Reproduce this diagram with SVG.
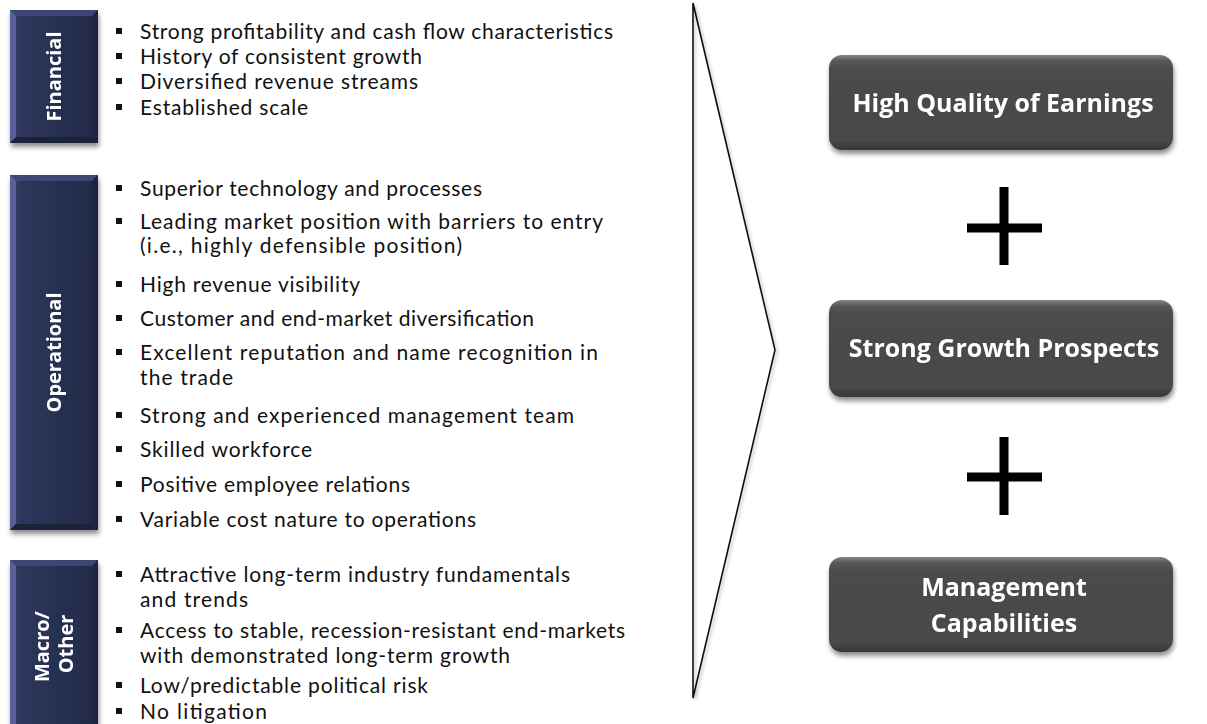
<svg xmlns="http://www.w3.org/2000/svg" width="1207" height="724" viewBox="0 0 1207 724">
  <style>
    .bul { font-family: Lato, "Liberation Sans", sans-serif; font-size: 21px; fill: #111111; }
    .dot { fill: #111111; }
    .tag { font-family: "Open Sans", "Liberation Sans", sans-serif; font-size: 20px; font-weight: bold; fill: #ffffff; text-anchor: middle; }
    .ttl { font-family: "Open Sans", "Liberation Sans", sans-serif; font-size: 25px; font-weight: bold; fill: #ffffff; text-anchor: middle; }
    .plus { stroke: #000000; stroke-width: 9; fill: none; }
  </style>
  <defs>
    <linearGradient id="navyFill" x1="0" y1="0" x2="1" y2="0">
      <stop offset="0" stop-color="#3a4470"/>
      <stop offset="0.12" stop-color="#2e365c"/>
      <stop offset="0.5" stop-color="#283052"/>
      <stop offset="1" stop-color="#232a48"/>
    </linearGradient>
    <linearGradient id="greyFill" x1="0" y1="0" x2="0" y2="1">
      <stop offset="0" stop-color="#858585"/>
      <stop offset="0.06" stop-color="#585858"/>
      <stop offset="0.15" stop-color="#4b4b4b"/>
      <stop offset="0.9" stop-color="#494949"/>
      <stop offset="1" stop-color="#363636"/>
    </linearGradient>
    <filter id="shadow" x="-10%" y="-10%" width="125%" height="130%">
      <feGaussianBlur in="SourceAlpha" stdDeviation="2.5"/>
      <feOffset dx="1" dy="4" result="b"/>
      <feComponentTransfer><feFuncA type="linear" slope="0.45"/></feComponentTransfer>
      <feMerge><feMergeNode/><feMergeNode in="SourceGraphic"/></feMerge>
    </filter>
    <filter id="lineShadow" x="-20%" y="-5%" width="140%" height="110%">
      <feGaussianBlur in="SourceAlpha" stdDeviation="1.5"/>
      <feOffset dx="2" dy="2"/>
      <feComponentTransfer><feFuncA type="linear" slope="0.25"/></feComponentTransfer>
      <feMerge><feMergeNode/><feMergeNode in="SourceGraphic"/></feMerge>
    </filter>
  </defs>

  <rect width="1207" height="724" fill="#ffffff"/>

  <!-- Category tabs on the left -->
  <g id="tab-financial" filter="url(#shadow)">
    <rect x="10" y="10" width="88" height="133" fill="url(#navyFill)"/>
    <polygon points="10,10 98,10 92,16 16,16" fill="#3c4674"/>
    <polygon points="10,10 16,16 16,137 10,143" fill="#56619a"/>
    <polygon points="98,10 98,143 92,137 92,16" fill="#1f2541"/>
    <polygon points="10,143 98,143 92,137 16,137" fill="#1b2039"/>
    <text class="tag" transform="translate(54,76.5) rotate(-90)" y="7">Financial</text>
  </g>
  <g id="tab-operational" filter="url(#shadow)">
    <rect x="10" y="175" width="88" height="355" fill="url(#navyFill)"/>
    <polygon points="10,175 98,175 92,181 16,181" fill="#3c4674"/>
    <polygon points="10,175 16,181 16,524 10,530" fill="#56619a"/>
    <polygon points="98,175 98,530 92,524 92,181" fill="#1f2541"/>
    <polygon points="10,530 98,530 92,524 16,524" fill="#1b2039"/>
    <text class="tag" transform="translate(54,352.5) rotate(-90)" y="7">Operational</text>
  </g>
  <g id="tab-macro" filter="url(#shadow)">
    <rect x="10" y="560" width="88" height="170" fill="url(#navyFill)"/>
    <polygon points="10,560 98,560 92,566 16,566" fill="#3c4674"/>
    <polygon points="10,560 16,566 16,724 10,730" fill="#56619a"/>
    <polygon points="98,560 98,730 92,724 92,566" fill="#1f2541"/>
    <polygon points="10,730 98,730 92,724 16,724" fill="#1b2039"/>
    <text class="tag" transform="translate(54,644) rotate(-90)">
      <tspan x="0" y="-5">Macro/</tspan>
      <tspan x="0" y="19">Other</tspan>
    </text>
  </g>

  <!-- Bullet lists -->
  <g id="list-financial">
    <rect class="dot" x="116" y="28" width="6" height="6"/>
    <text class="bul" x="140" y="39" textLength="473">Strong profitability and cash flow characteristics</text>
    <rect class="dot" x="116" y="53" width="6" height="6"/>
    <text class="bul" x="140" y="64" textLength="282">History of consistent growth</text>
    <rect class="dot" x="116" y="78" width="6" height="6"/>
    <text class="bul" x="140" y="89" textLength="278">Diversified revenue streams</text>
    <rect class="dot" x="116" y="104" width="6" height="6"/>
    <text class="bul" x="140" y="115" textLength="168">Established scale</text>
  </g>

  <g id="list-operational">
    <rect class="dot" x="116" y="185" width="6" height="6"/>
    <text class="bul" x="140" y="196" textLength="342">Superior technology and processes</text>
    <rect class="dot" x="116" y="218" width="6" height="6"/>
    <text class="bul" x="140" y="229" textLength="463">Leading market position with barriers to entry</text>
    <text class="bul" x="140" y="253" textLength="322">(i.e., highly defensible position)</text>
    <rect class="dot" x="116" y="281" width="6" height="6"/>
    <text class="bul" x="140" y="292" textLength="220">High revenue visibility</text>
    <rect class="dot" x="116" y="315" width="6" height="6"/>
    <text class="bul" x="140" y="326" textLength="394">Customer and end-market diversification</text>
    <rect class="dot" x="116" y="349" width="6" height="6"/>
    <text class="bul" x="140" y="360" textLength="458">Excellent reputation and name recognition in</text>
    <text class="bul" x="140" y="385" textLength="93">the trade</text>
    <rect class="dot" x="116" y="412" width="6" height="6"/>
    <text class="bul" x="140" y="423" textLength="434">Strong and experienced management team</text>
    <rect class="dot" x="116" y="446" width="6" height="6"/>
    <text class="bul" x="140" y="457" textLength="172">Skilled workforce</text>
    <rect class="dot" x="116" y="481" width="6" height="6"/>
    <text class="bul" x="140" y="492" textLength="270">Positive employee relations</text>
    <rect class="dot" x="116" y="516" width="6" height="6"/>
    <text class="bul" x="140" y="527" textLength="336">Variable cost nature to operations</text>
  </g>

  <g id="list-macro">
    <rect class="dot" x="116" y="571" width="6" height="6"/>
    <text class="bul" x="140" y="582" textLength="430">Attractive long-term industry fundamentals</text>
    <text class="bul" x="140" y="607" textLength="108">and trends</text>
    <rect class="dot" x="116" y="627" width="6" height="6"/>
    <text class="bul" x="140" y="638" textLength="485">Access to stable, recession-resistant end-markets</text>
    <text class="bul" x="140" y="663" textLength="370">with demonstrated long-term growth</text>
    <rect class="dot" x="116" y="682" width="6" height="6"/>
    <text class="bul" x="140" y="693" textLength="288">Low/predictable political risk</text>
    <rect class="dot" x="116" y="708" width="6" height="6"/>
    <text class="bul" x="140" y="719" textLength="127">No litigation</text>
  </g>

  <!-- Connectors: the large chevron and the plus signs -->
  <g id="connectors">
    <polygon points="693,3 775,350 693,698" fill="none" stroke="#111111" stroke-width="1.6" stroke-linejoin="miter" filter="url(#lineShadow)"/>
    <path class="plus" d="M1004,187 V265 M967,228 H1042"/>
    <path class="plus" d="M1004,437 V515 M967,477 H1042"/>
  </g>

  <!-- Outcome boxes -->
  <g id="box-earnings" filter="url(#shadow)">
    <rect x="829" y="55" width="344" height="95" rx="13" fill="url(#greyFill)"/>
    <text class="ttl" x="1003" y="112">High Quality of Earnings</text>
  </g>
  <g id="box-growth" filter="url(#shadow)">
    <rect x="829" y="300" width="344" height="97" rx="13" fill="url(#greyFill)"/>
    <text class="ttl" x="1004" y="357">Strong Growth Prospects</text>
  </g>
  <g id="box-management" filter="url(#shadow)">
    <rect x="829" y="557" width="344" height="95" rx="13" fill="url(#greyFill)"/>
    <text class="ttl" x="1004" y="596">Management</text>
    <text class="ttl" x="1004" y="632">Capabilities</text>
  </g>
</svg>
